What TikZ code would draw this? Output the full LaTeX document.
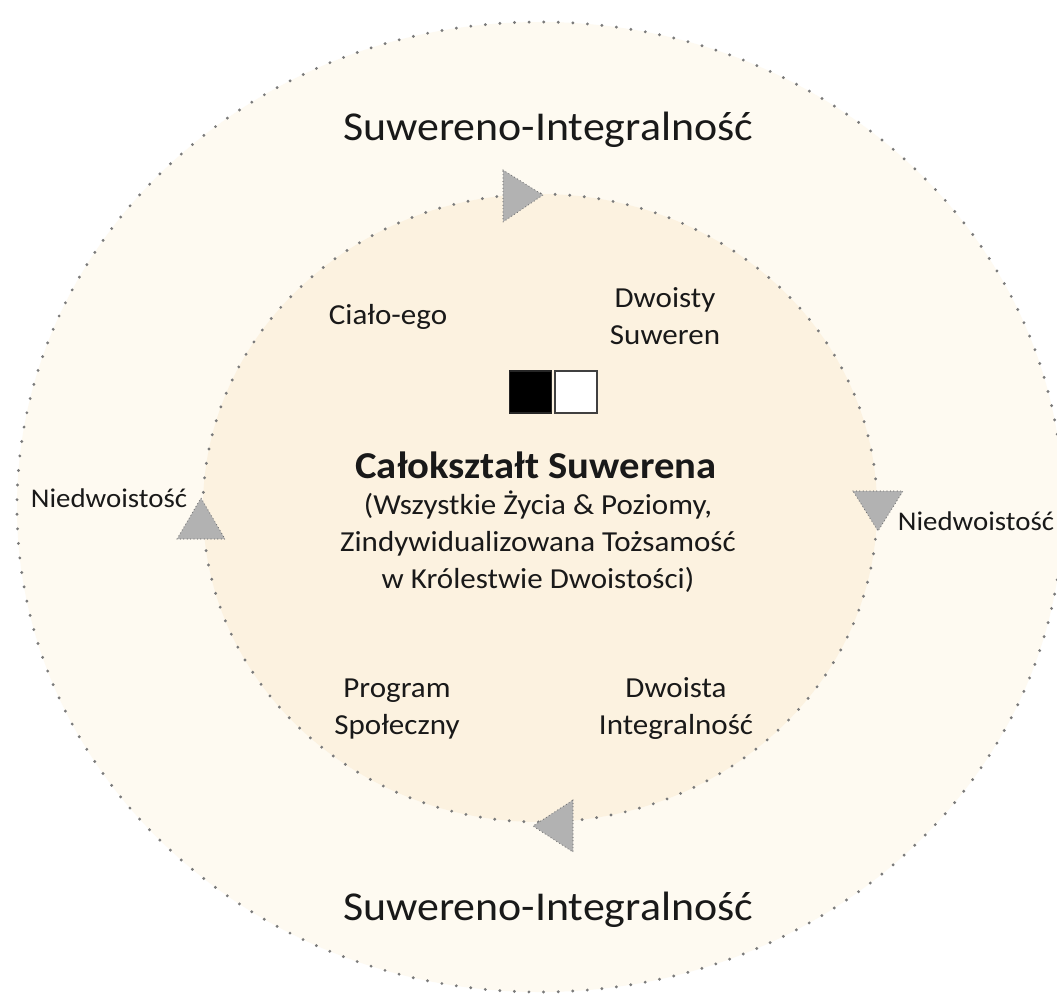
\documentclass[tikz,border=0pt]{standalone}
\usepackage{fontspec}
\setmainfont{Carlito}[FakeStretch=1.07]
\begin{document}
\begin{tikzpicture}[x=1pt,y=-1pt,
  ringdots/.style={draw=black!52, line width=3.2pt, line cap=round, dash pattern=on 0pt off 14.6pt},
  arrowtri/.style={fill=black!30, draw=black!55, line width=1.2pt, line cap=round, dash pattern=on 0pt off 3.4pt},
  heading/.style={font=\fontsize{41}{48}\selectfont, text=black!90},
  label/.style={font=\fontsize{29}{37}\selectfont, align=center, text=black!90},
  side/.style={font=\fontsize{27}{30}\selectfont, text=black!90},
  title/.style={font=\bfseries\fontsize{38}{44}\selectfont, text=black!90}]
\definecolor{outerfill}{HTML}{FEFAF1}
\definecolor{innerfill}{HTML}{FCF2E0}
\useasboundingbox (0,0) rectangle (1057,994);
\clip (0,0) rectangle (1057,994);
\fill[white] (0,0) rectangle (1057,994);

% outer ring and inner disc
\fill[outerfill] (540,507) ellipse [x radius=523pt, y radius=485pt];
\draw[ringdots] (540,507) ellipse [x radius=523pt, y radius=485pt];
\fill[innerfill] (540,508) ellipse [x radius=337pt, y radius=314pt];
\draw[ringdots] (540,508) ellipse [x radius=337pt, y radius=314pt];

% clockwise flow markers on the inner ring
\draw[arrowtri] (503,170) -- (543,195) -- (503,222) -- cycle;
\draw[arrowtri] (853,491) -- (903,491) -- (878,531) -- cycle;
\draw[arrowtri] (573,800) -- (573,852) -- (533,826) -- cycle;
\draw[arrowtri] (177,539) -- (225,539) -- (201,498) -- cycle;

% ring labels
\node[heading, anchor=base] (topring) at (548,140) {Suwereno-Integralność};
\node[heading, anchor=base] (botring) at (548,920) {Suwereno-Integralność};
\node[side, anchor=base] (leftnd) at (109,507) {Niedwoistość};
\node[side, anchor=base] (rightnd) at (976,530) {Niedwoistość};

% quadrant labels
\node[label, anchor=base] (cialo) at (388,324) {Ciało-ego};
\node[label] (dsuw) at (665,316) {Dwoisty\\Suweren};
\node[label] (prog) at (397,709) {Program\\Społeczny};
\node[label] (dint) at (676,709) {Dwoista\\Integralność};

% black and white squares
\node[draw=black!85, fill=black, line width=1.5pt, minimum size=42pt, inner sep=0pt] (blacksq) at (530.5,392) {};
\node[draw=black!75, fill=white, line width=1.5pt, minimum size=42pt, inner sep=0pt] (whitesq) at (576,392) {};

% centre text
\node[title, anchor=base] (whole) at (536,478) {Całokształt Suwerena};
\node[label, anchor=north] (desc) at (538,487) {(Wszystkie Życia \& Poziomy,\\Zindywidualizowana Tożsamość\\w Królestwie Dwoistości)};
\end{tikzpicture}
\end{document}
